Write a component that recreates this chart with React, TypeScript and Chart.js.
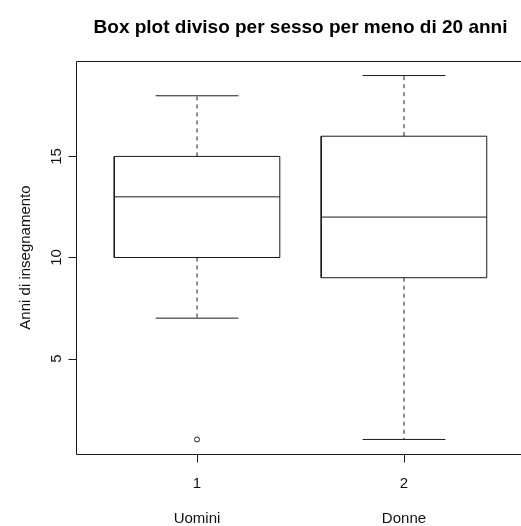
import React, { useEffect, useRef } from 'react';
import { Chart, registerables } from 'chart.js';

Chart.register(...registerables);

// ---- data ----
const groupNames = ['Uomini', 'Donne'];
const groupPositions = [1, 2];
const xTickLabels = ['1', '2'];
const lowerWhisker = [7, 1];
const q1Values = [10, 9];
const medianValues = [13, 12];
const q3Values = [15, 16];
const upperWhisker = [18, 19];
const outlierValues = [[1], []];
const yTicks = [5, 10, 15];
const chartTitle = 'Box plot diviso per sesso per meno di 20 anni';
const yAxisTitle = 'Anni di insegnamento';
const xRange = [0.42, 2.58];
const yRange = [0.28, 19.72];

// ---- style ----
const LINE = '#1a1a1a';
const BOX_HALF = 0.4;
const CAP_HALF = 0.2;
const FONT = '"Liberation Sans", Arial, sans-serif';
const CANVAS_W = 530;
const CANVAS_H = 526;

function buildDatasets(): any[] {
  const ds: any[] = [];
  const base = {
    showLine: true,
    borderColor: LINE,
    borderWidth: 1,
    pointRadius: 0,
    pointHoverRadius: 0,
    fill: false,
    tension: 0,
    borderJoinStyle: 'miter',
    borderCapStyle: 'butt',
  };
  groupPositions.forEach((x, i) => {
    ds.push({
      ...base,
      label: 'box ' + groupNames[i],
      data: [
        { x: x - BOX_HALF, y: q1Values[i] },
        { x: x + BOX_HALF, y: q1Values[i] },
        { x: x + BOX_HALF, y: q3Values[i] },
        { x: x - BOX_HALF, y: q3Values[i] },
        { x: x - BOX_HALF, y: q1Values[i] },
      ],
    });
    ds.push({
      ...base,
      label: 'median ' + groupNames[i],
      data: [
        { x: x - BOX_HALF, y: medianValues[i] },
        { x: x + BOX_HALF, y: medianValues[i] },
      ],
    });
    ds.push({
      ...base,
      label: 'upper whisker ' + groupNames[i],
      borderDash: [4, 4],
      data: [
        { x, y: q3Values[i] },
        { x, y: upperWhisker[i] },
      ],
    });
    ds.push({
      ...base,
      label: 'lower whisker ' + groupNames[i],
      borderDash: [4, 4],
      data: [
        { x, y: q1Values[i] },
        { x, y: lowerWhisker[i] },
      ],
    });
    ds.push({
      ...base,
      label: 'upper cap ' + groupNames[i],
      data: [
        { x: x - CAP_HALF, y: upperWhisker[i] },
        { x: x + CAP_HALF, y: upperWhisker[i] },
      ],
    });
    ds.push({
      ...base,
      label: 'lower cap ' + groupNames[i],
      data: [
        { x: x - CAP_HALF, y: lowerWhisker[i] },
        { x: x + CAP_HALF, y: lowerWhisker[i] },
      ],
    });
  });
  const outPts: { x: number; y: number }[] = [];
  groupPositions.forEach((x, i) => {
    outlierValues[i].forEach((v) => outPts.push({ x, y: v }));
  });
  ds.push({
    label: 'outliers',
    showLine: false,
    data: outPts,
    pointRadius: 2.5,
    pointHoverRadius: 2.5,
    pointBorderWidth: 1,
    pointBorderColor: LINE,
    pointBackgroundColor: 'rgba(0,0,0,0)',
    pointStyle: 'circle',
  });
  return ds;
}

const rAxesPlugin = {
  id: 'rAxes',
  afterDraw(chart: any) {
    const ctx: CanvasRenderingContext2D = chart.ctx;
    const xs = chart.scales.x;
    const ys = chart.scales.y;
    const h = (v: number) => Math.round(v) + 0.5;
    ctx.save();
    ctx.strokeStyle = LINE;
    ctx.lineWidth = 1;
    ctx.setLineDash([]);
    // frame (right side lies beyond the visible area, as in the reference)
    const l = h(xs.left - 1), r = h(xs.right), t = h(ys.top), b = h(ys.bottom);
    ctx.beginPath();
    ctx.moveTo(r, b);
    ctx.lineTo(l, b);
    ctx.lineTo(l, t);
    ctx.lineTo(r, t);
    ctx.closePath();
    ctx.stroke();

    ctx.fillStyle = '#111';
    ctx.font = '15px ' + FONT;
    // y ticks
    yTicks.forEach((v) => {
      const py = h(ys.getPixelForValue(v));
      ctx.beginPath();
      ctx.moveTo(l - 8, py);
      ctx.lineTo(l, py);
      ctx.stroke();
      ctx.save();
      ctx.translate(61, ys.getPixelForValue(v));
      ctx.rotate(-Math.PI / 2);
      ctx.textAlign = 'center';
      ctx.textBaseline = 'alphabetic';
      ctx.fillText(String(v), 0, 0);
      ctx.restore();
    });
    // x ticks
    groupPositions.forEach((x, i) => {
      const px = xs.getPixelForValue(x);
      ctx.beginPath();
      ctx.moveTo(h(px), b);
      ctx.lineTo(h(px), b + 8);
      ctx.stroke();
      ctx.textAlign = 'center';
      ctx.textBaseline = 'alphabetic';
      ctx.fillText(xTickLabels[i], px, 488);
      ctx.fillText(groupNames[i], px, 523);
    });
    // y axis title
    ctx.save();
    ctx.translate(30, (ys.top + ys.bottom) / 2);
    ctx.rotate(-Math.PI / 2);
    ctx.textAlign = 'center';
    ctx.textBaseline = 'alphabetic';
    ctx.fillText(yAxisTitle, 0, 0);
    ctx.restore();
    // main title
    ctx.fillStyle = '#000';
    ctx.font = 'bold 19px ' + FONT;
    ctx.textAlign = 'center';
    ctx.textBaseline = 'alphabetic';
    ctx.fillText(chartTitle, (xs.left + xs.right) / 2, 33);
    ctx.restore();
  },
};

export default function App() {
  const canvasRef = useRef<HTMLCanvasElement | null>(null);
  useEffect(() => {
    if (!canvasRef.current) return;
    const chart = new Chart(canvasRef.current, {
      type: 'scatter',
      data: { datasets: buildDatasets() },
      options: {
        animation: false,
        responsive: false,
        devicePixelRatio: 1,
        events: [],
        layout: { padding: { left: 77, top: 61, right: CANVAS_W - 524, bottom: CANVAS_H - 454 } },
        plugins: {
          legend: { display: false },
          tooltip: { enabled: false },
          title: { display: false },
        },
        scales: {
          x: { type: 'linear', min: xRange[0], max: xRange[1], display: false },
          y: { type: 'linear', min: yRange[0], max: yRange[1], display: false },
        },
      } as any,
      plugins: [rAxesPlugin],
    });
    return () => chart.destroy();
  }, []);
  return (
    <div style={{ position: 'fixed', left: 0, top: 0, width: 521, height: 526, overflow: 'hidden', background: '#fff' }}>
      <canvas ref={canvasRef} width={CANVAS_W} height={CANVAS_H} style={{ width: CANVAS_W, height: CANVAS_H, display: 'block' }} />
    </div>
  );
}
